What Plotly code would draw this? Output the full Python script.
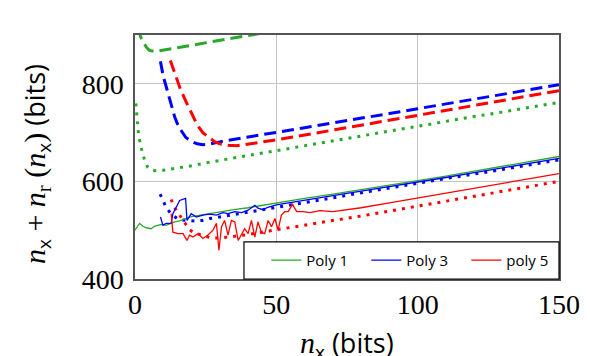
import plotly.graph_objects as go

# ---- data ----
p1_dash_x = [1, 2, 3, 4, 5, 6, 8, 10, 15, 20, 25, 30, 35, 40, 45, 50]
p1_dash_y = [915, 896, 885, 875, 869, 867, 867, 869, 875, 880, 885, 890, 894, 899, 904, 909]

p3_dash_x = [9, 10, 11, 12, 13, 14, 15, 16, 18, 20, 22, 24, 26, 30, 40, 50, 60, 70, 80, 90, 100,
             110, 120, 130, 140, 150]
p3_dash_y = [846, 815, 795, 773, 750, 733, 718, 707, 690, 682, 677, 675, 676, 681, 691, 700, 710,
             720, 729, 739, 749, 759, 768, 778, 788, 798]

p5_dash_x = [12.5, 14, 16, 18, 20, 22, 24, 26, 28, 30, 33, 36, 40, 50, 60, 70, 80, 90, 100, 110,
             120, 130, 140, 150]
p5_dash_y = [848, 822, 790, 764, 740, 716, 700, 690, 682, 677, 674, 673, 676, 685, 695, 705, 715,
             725, 735, 745, 755, 766, 776, 786]

p1_dot_x = [0.3, 0.7, 1, 1.3, 2, 2.5, 3.4, 4.5, 5.5, 7, 10, 15, 20, 26, 30, 40, 50, 60, 70, 80,
            90, 100, 110, 120, 130, 140, 150]
p1_dot_y = [760, 726, 705, 692, 676, 660, 644, 629, 624, 622, 623, 627, 632, 639, 643, 653, 663,
            674, 684, 694, 704, 713, 723, 733, 742, 752, 762]

p3_dot_x = [8.9, 9.9, 11, 12.8, 15.4, 18.2, 21.1, 23.8, 26.4, 29, 30, 40, 50, 60, 70, 80, 90,
            100, 110, 120, 130, 140, 150]
p3_dot_y = [574, 560, 547, 533, 522, 520, 519, 520, 524, 526, 527, 537, 547, 557, 567, 576, 586,
            596, 606, 615, 625, 635, 644]

p5_dot_x = [12.8, 13.8, 15.5, 17.6, 19.3, 21.1, 23.1, 25.5, 27, 30, 35, 40, 45, 50, 53.6, 60,
            70, 80, 90, 100, 110, 120, 130, 140, 150]
p5_dot_y = [563, 548, 533, 514, 501, 494, 491, 486, 484, 484, 487, 491, 496, 501, 505, 510, 520,
            529, 539, 549, 560, 570, 580, 590, 600]

p1_x = [0, 1.6, 2.8, 4, 5.7, 6.9, 8, 9.3, 11, 12.8, 14, 15.8, 17.5, 19.3, 21, 23, 25, 30, 35,
        40, 45, 50, 60, 70, 80, 90, 100, 110, 120, 130, 140, 150]
p1_y = [500, 514, 508, 505, 503, 508, 510, 512, 510, 515, 517, 519, 523, 527, 529, 531, 533, 537,
        542, 546, 551, 556, 565, 574, 583, 592, 601, 611, 621, 631, 641, 651]

p3_x = [9, 9.9, 11, 12.8, 13.4, 15.8, 17.9, 18.4, 19.9, 21.7, 24, 26.4, 28.8, 31.1, 32.9, 35.3,
        37.7, 40, 42.4, 43.5, 45.3, 47, 50, 60, 70, 80, 90, 100, 110, 120, 130, 140, 150]
p3_y = [527, 510, 514, 514, 534, 561, 565, 520, 534, 527, 531, 533, 531, 536, 534, 538, 536, 541,
        551, 545, 542, 547, 552, 562, 571, 580, 589, 598, 608, 618, 628, 638, 647]

p5_x = [12.8, 13.4, 15.2, 17, 18.4, 19.3, 20.5, 22.3, 24, 25.8, 27.6, 28.8, 29.7, 30.6, 31.7,
        32.9, 34.1, 35.3, 36.5, 37.7, 38.8, 40, 41.2, 42.4, 43.5, 44.7, 45.9, 47.1, 48.3, 49.5,
        50.6, 51.8, 53, 54.2, 55.7, 57.2, 59.5, 61.9, 65.4, 70, 76, 80, 90, 100, 110, 120, 130,
        140, 150]
p5_y = [534, 496, 493, 493, 479, 490, 486, 493, 483, 490, 500, 514, 459, 507, 520, 490, 520, 517,
        479, 493, 503, 493, 520, 486, 517, 496, 493, 520, 507, 524, 500, 531, 538, 538, 553, 538,
        538, 536, 540, 538, 542, 546, 556, 566, 576, 586, 596, 606, 616]

GREEN = "rgb(40,170,40)"
BLUE = "rgb(0,0,255)"
RED = "rgb(255,0,0)"
DASH = "12px,6px"
DOT = "3px,6px"

fig = go.Figure()

for xs, ys, col in [(p1_dash_x, p1_dash_y, GREEN), (p3_dash_x, p3_dash_y, BLUE),
                    (p5_dash_x, p5_dash_y, RED)]:
    fig.add_trace(go.Scatter(x=xs, y=ys, mode="lines", showlegend=False,
                             line=dict(color=col, width=3, dash=DASH)))

for xs, ys, col in [(p1_dot_x, p1_dot_y, GREEN), (p3_dot_x, p3_dot_y, BLUE),
                    (p5_dot_x, p5_dot_y, RED)]:
    fig.add_trace(go.Scatter(x=xs, y=ys, mode="lines", showlegend=False,
                             line=dict(color=col, width=3, dash=DOT)))

for xs, ys, col, name in [(p1_x, p1_y, GREEN, "Poly 1"), (p3_x, p3_y, BLUE, "Poly 3"),
                          (p5_x, p5_y, RED, "poly 5")]:
    fig.add_trace(go.Scatter(x=xs, y=ys, mode="lines", name=name,
                             line=dict(color=col, width=1.3)))

SERIF = "Liberation Serif"
SANS = "Open Sans"


def m(s, size=None):
    sz = f";font-size:{size}px" if size else ""
    return f'<span style="font-family:{SERIF}{sz}">{s}</span>'


y_title = (m("<i>n</i>", 30) + "<sub>x</sub>" + m(" + <i>n</i>", 30) + m("<sub>r</sub>", 30)
           + m(" (<i>n</i>", 30) + "<sub>x</sub>" + m(")", 30) + " (bits)&nbsp;&nbsp;")
x_title = m("<i>n</i>", 30) + "<sub>x</sub>" + " (bits)"

# legend frame (taller than plotly's own legend box), bottom-right of the plot area
LEG_X0, LEG_Y1 = 0.257, 0.152

fig.update_layout(
    width=590,
    height=356,
    margin=dict(l=135, r=31, t=35, b=77),
    plot_bgcolor="white",
    paper_bgcolor="white",
    font=dict(family=SANS, color="black"),
    legend=dict(
        orientation="h",
        x=(LEG_X0 + 1) / 2 + 0.035, xanchor="center",
        y=LEG_Y1 / 2, yanchor="middle",
        bgcolor="rgba(0,0,0,0)",
        borderwidth=0,
        font=dict(family=SANS, size=15),
        entrywidth=55,
    ),
    shapes=[dict(type="rect", xref="paper", yref="paper", x0=LEG_X0, x1=1, y0=0, y1=LEG_Y1,
                 line=dict(color="black", width=1.2), fillcolor="white", layer="above")],
    # x-axis title as an annotation so it can sit partly below the page edge like the original
    annotations=[dict(text=x_title, xref="paper", yref="paper", x=0.5, y=-0.27,
                      xanchor="center", yanchor="middle", showarrow=False,
                      font=dict(family=SANS, size=27))],
)
fig.update_xaxes(
    range=[0, 150], tickvals=[0, 50, 100, 150],
    showgrid=True, gridcolor="#c4c4c4", gridwidth=1,
    showline=True, mirror=True, linecolor="#555", linewidth=1.5,
    zeroline=False, ticks="", automargin=False,
    tickfont=dict(family=SERIF, size=28),
)
fig.update_yaxes(
    range=[400, 900], tickvals=[400, 600, 800],
    showgrid=True, gridcolor="#c4c4c4", gridwidth=1,
    showline=True, mirror=True, linecolor="#555", linewidth=1.5,
    zeroline=False, ticks="", automargin=False, ticklabelstandoff=4,
    tickfont=dict(family=SERIF, size=28),
    title=dict(text=y_title, font=dict(family=SANS, size=27), standoff=28),
)

# the page body has a default 8px margin; drop it so the figure fills the window
fig.write_html("out.html", config={"displayModeBar": False},
               post_script="document.body.style.margin='0';")
